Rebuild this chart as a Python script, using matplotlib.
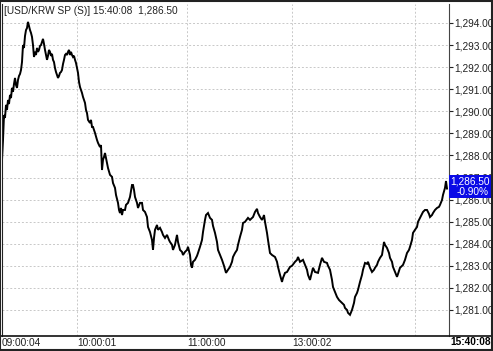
import matplotlib.pyplot as plt
from matplotlib.patches import Rectangle
from matplotlib.lines import Line2D

# tick number (trade sequence) and USD/KRW price
ticks = [0, 1, 2, 3, 4, 5, 6, 7, 8, 9, 10, 11, 12, 13, 14, 15, 16, 17, 18, 19,
         20, 21, 22, 23, 24, 25, 26, 27, 28, 29, 30, 31, 32, 33, 34, 35, 36, 37, 38, 39,
         40, 41, 42, 43, 44, 45, 46, 47, 48, 49, 50, 51, 52, 53, 54, 55, 56, 57, 58, 59,
         60, 61, 62, 63, 64, 65, 66, 67, 68, 69, 70, 71, 72, 73, 74, 75, 76, 77, 78, 80,
         81, 83, 84, 85, 86, 88, 89, 90, 91, 93, 95, 96, 98, 99, 100, 101, 102, 103, 104, 106,
         108, 110, 111, 113, 114, 116, 117, 118, 119, 120, 121, 123, 124, 126, 128, 130, 131, 132, 133, 135,
         136, 138, 140, 141, 143, 145, 146, 148, 150, 151, 152, 153, 155, 156, 158, 160, 161, 163, 165, 167,
         168, 170, 171, 173, 175, 176, 178, 180, 181, 183, 185, 186, 188, 189, 190, 191, 193, 195, 196, 198,
         200, 201, 203, 204, 206, 208, 210, 211, 213, 215, 216, 218, 220, 222, 224, 226, 228, 230, 231, 233,
         235, 236, 238, 240, 241, 243, 246, 248, 251, 253, 255, 256, 258, 260, 261, 262, 263, 265, 266, 268,
         270, 273, 275, 276, 278, 280, 281, 283, 285, 288, 290, 293, 295, 296, 298, 301, 303, 305, 306, 308,
         310, 311, 313, 316, 318, 320, 322, 325, 326, 328, 330, 331, 333, 335, 337, 340, 342, 343, 345, 346,
         348, 350, 352, 353, 355, 356, 358, 360, 361, 363, 365, 366, 368, 370, 372, 373, 375, 376, 378, 380,
         382, 383, 385, 387, 388, 390, 391, 393, 395, 396, 398, 400, 401, 403, 405, 407, 408, 410, 411, 413,
         415, 416, 418, 420, 421, 423, 425, 427, 428, 430, 431, 433, 435, 437, 438, 440, 441, 443, 444, 445]
prices = [1287.80, 1288.70, 1289.83, 1289.70, 1290.29, 1290.06, 1290.51, 1290.33, 1290.74, 1290.60,
          1291.06, 1290.88, 1291.24, 1291.51, 1291.19, 1291.06, 1291.42, 1291.60, 1291.69, 1291.87,
          1292.23, 1293.00, 1292.87, 1293.41, 1293.68, 1293.77, 1294.05, 1293.86, 1293.68, 1293.55,
          1293.37, 1293.00, 1292.46, 1292.69, 1292.55, 1292.87, 1292.69, 1292.78, 1292.96, 1293.00,
          1293.14, 1293.28, 1293.05, 1292.78, 1292.55, 1292.33, 1292.51, 1292.78, 1292.69, 1292.51,
          1292.60, 1292.33, 1292.23, 1291.96, 1291.78, 1291.65, 1291.51, 1291.60, 1291.74, 1291.78,
          1291.87, 1292.14, 1292.33, 1292.55, 1292.60, 1292.55, 1292.69, 1292.78, 1292.55, 1292.69,
          1292.55, 1292.46, 1292.51, 1292.33, 1292.19, 1291.96, 1291.74, 1291.33, 1291.10, 1290.83,
          1290.65, 1290.38, 1290.06, 1289.92, 1289.61, 1289.47, 1289.61, 1289.29, 1289.29, 1289.02,
          1288.70, 1288.57, 1288.38, 1288.47, 1287.34, 1287.80, 1287.93, 1288.11, 1287.89, 1287.43,
          1287.12, 1287.03, 1286.75, 1286.53, 1286.21, 1285.85, 1285.53, 1285.39, 1285.62, 1285.30,
          1285.53, 1285.53, 1285.76, 1285.85, 1286.12, 1286.66, 1286.66, 1286.44, 1286.12, 1285.85,
          1285.62, 1285.85, 1285.85, 1285.53, 1285.44, 1285.21, 1284.76, 1284.53, 1284.17, 1283.72,
          1284.26, 1284.63, 1284.85, 1284.63, 1284.72, 1284.53, 1284.40, 1284.26, 1284.40, 1284.17,
          1284.08, 1283.95, 1283.72, 1283.95, 1284.40, 1284.08, 1283.72, 1283.63, 1283.49, 1283.63,
          1283.72, 1283.86, 1283.49, 1283.04, 1282.91, 1283.18, 1283.27, 1283.45, 1283.58, 1283.86,
          1284.17, 1284.53, 1285.08, 1285.30, 1285.39, 1285.17, 1285.08, 1284.81, 1284.49, 1284.08,
          1283.72, 1283.49, 1283.27, 1283.00, 1282.68, 1282.82, 1282.95, 1283.18, 1283.40, 1283.58,
          1283.72, 1283.95, 1284.31, 1284.63, 1284.94, 1284.99, 1285.17, 1285.08, 1285.21, 1285.44,
          1285.58, 1285.39, 1285.21, 1285.08, 1285.17, 1285.30, 1284.99, 1284.49, 1284.17, 1283.58,
          1283.49, 1283.40, 1283.18, 1282.95, 1282.59, 1282.27, 1282.45, 1282.68, 1282.72, 1282.95,
          1283.00, 1283.18, 1283.27, 1283.40, 1283.18, 1283.27, 1283.04, 1282.82, 1282.59, 1282.36,
          1282.72, 1282.91, 1282.72, 1282.68, 1283.04, 1283.36, 1283.18, 1283.13, 1283.00, 1282.82,
          1282.36, 1282.04, 1281.82, 1281.59, 1281.45, 1281.32, 1281.23, 1281.09, 1281.00, 1280.87,
          1280.78, 1281.00, 1281.32, 1281.59, 1281.77, 1281.91, 1282.27, 1282.59, 1282.82, 1283.13,
          1283.09, 1283.18, 1282.91, 1282.72, 1282.82, 1282.91, 1283.04, 1283.18, 1283.36, 1283.49,
          1284.08, 1283.95, 1283.81, 1283.58, 1283.36, 1283.18, 1282.95, 1282.72, 1282.50, 1282.63,
          1282.91, 1283.00, 1283.04, 1283.27, 1283.58, 1283.72, 1283.86, 1284.17, 1284.49, 1284.63,
          1284.76, 1284.99, 1285.17, 1285.35, 1285.44, 1285.53, 1285.53, 1285.35, 1285.21, 1285.30,
          1285.39, 1285.53, 1285.62, 1285.67, 1285.76, 1285.98, 1286.21, 1286.53, 1286.84, 1286.50]

price_ticks = [1281, 1282, 1283, 1284, 1285, 1286, 1287, 1288, 1289, 1290, 1291, 1292, 1293, 1294]
time_pos = [0, 75, 185, 290, 413]
time_labels = ['09:00:04', '10:00:01', '11:00:00', '13:00:02', '']
last_time = '15:40:08'
last_price = 1286.50
change_pct = -0.90

plt.rcParams['font.family'] = ['Liberation Sans', 'DejaVu Sans']
fs = 7.3

fig = plt.figure(figsize=(4.93, 3.51), dpi=100)
ax = fig.add_axes([2 / 493, 1 - 336 / 351, 447 / 493, 332 / 351])

ax.plot(ticks, prices, color='black', lw=1.4, solid_joinstyle='miter')
ax.set_xlim(0, 447)
ax.set_ylim(1279.82, 1294.86)

ax.set_yticks(price_ticks)
ax.set_yticklabels(['{:,.2f}'.format(p) for p in price_ticks])
ax.yaxis.tick_right()
ax.tick_params(axis='y', length=3, width=0.8, pad=1, labelsize=fs, colors='#222222')

ax.set_xticks(time_pos)
ax.set_xticklabels(time_labels, ha='left')
ax.tick_params(axis='x', length=0, pad=1.5, labelsize=fs, colors='#222222')

ax.grid(True, color='#c8c8c8', ls=(0, (2, 2)), lw=0.7)
for s in ['top', 'bottom']:
    ax.spines[s].set_visible(False)
ax.spines['left'].set_color('#222222')
ax.spines['right'].set_color('#444444')

ax.text(0.005, 0.993, '[USD/KRW SP (S)] 15:40:08  1,286.50', transform=ax.transAxes,
        ha='left', va='top', fontsize=fs, color='#222222',
        bbox=dict(facecolor='white', edgecolor='none', pad=0.5))

# bottom axis line across full width
fig.add_artist(Line2D([0, 1], [1 - 336 / 351] * 2, color='#111111', lw=1.2))

# last price box
fig.add_artist(Rectangle((449 / 493, 1 - 198 / 351), 43 / 493, 23 / 351,
                         facecolor='#0a0ae6', edgecolor='none', zorder=5))
fig.text(470 / 493, 1 - 181 / 351, '{:,.2f}'.format(last_price), ha='center', va='center',
         fontsize=fs, color='white', zorder=6)
fig.text(473 / 493, 1 - 192 / 351, '{:.2f}%'.format(change_pct), ha='center', va='center',
         fontsize=fs, color='white', zorder=6)

fig.text(491 / 493, 1 - 342 / 351, last_time, ha='right', va='center',
         fontsize=fs, fontweight='bold', color='black', zorder=6)

# outer frame
fig.add_artist(Rectangle((0.001, 0.002), 0.997, 0.995, transform=fig.transFigure,
                         facecolor='none', edgecolor='#222222', lw=1.5, zorder=7))

fig.savefig('out.png', dpi=100)
